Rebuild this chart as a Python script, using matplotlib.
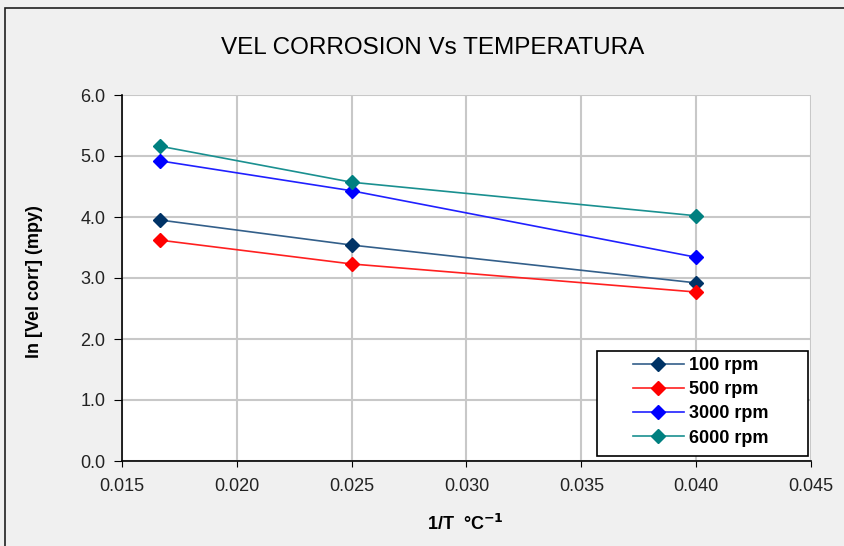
import matplotlib
matplotlib.use("Agg")
import matplotlib.pyplot as plt
from matplotlib.patches import Rectangle

plt.rcParams['font.family'] = ['Liberation Sans', 'DejaVu Sans']

inv_t = [1 / 60, 0.025, 0.040]
rpm_100 = [3.95, 3.54, 2.92]
rpm_500 = [3.62, 3.23, 2.77]
rpm_3000 = [4.92, 4.43, 3.34]
rpm_6000 = [5.16, 4.57, 4.02]

labels = ['100 rpm', '500 rpm', '3000 rpm', '6000 rpm']
series = [rpm_100, rpm_500, rpm_3000, rpm_6000]
line_colors = ['#335f8a', '#ff2020', '#2020ff', '#1a9090']
marker_colors = ['#003366', '#ff0000', '#0000ff', '#008080']

W, H = 845, 546
fig = plt.figure(figsize=(W / 100, H / 100), dpi=100)
fig.patch.set_facecolor('#f0f0f0')
# outer chart border
fig.patches.append(Rectangle((5 / W, -0.01), 1.0, (H - 8) / H + 0.01,
                             transform=fig.transFigure, fill=False,
                             edgecolor='#202020', lw=1.2))

ax = fig.add_axes([122 / W, 85 / H, 689 / W, 366 / H])
ax.set_facecolor('white')

for ys, lab, lc, mc in zip(series, labels, line_colors, marker_colors):
    ax.plot(inv_t, ys, color=lc, lw=1.2, marker='D', markersize=7,
            markerfacecolor=mc, markeredgecolor=mc, label=lab)

ax.set_xlim(0.015, 0.045)
ax.set_ylim(0, 6)
ax.set_xticks([0.015, 0.020, 0.025, 0.030, 0.035, 0.040, 0.045])
ax.set_xticklabels(['0.015', '0.020', '0.025', '0.030', '0.035', '0.040', '0.045'])
ax.set_yticks([0, 1, 2, 3, 4, 5, 6])
ax.set_yticklabels(['0.0', '1.0', '2.0', '3.0', '4.0', '5.0', '6.0'])
ax.grid(True, color='#c8c8c8', lw=1.5)
ax.set_axisbelow(True)
for s in ['top', 'right']:
    ax.spines[s].set_visible(False)
ax.spines['left'].set_linewidth(1.2)
ax.spines['bottom'].set_linewidth(1.2)
ax.tick_params(axis='both', labelsize=13, direction='out', color='black',
               labelcolor='#222222')
ax.tick_params(axis='y', length=6, pad=6)
ax.tick_params(axis='x', length=4, pad=8)

ax.set_xlabel('1/T  °C$^{\\mathbf{-1}}$', fontsize=13, fontweight='bold')
ax.xaxis.set_label_coords((465 - 122) / 689, -53 / 366)
ax.set_ylabel('ln [Vel corr] (mpy)', fontsize=13, fontweight='bold')
ax.yaxis.set_label_coords((43 - 122) / 689, 0.49)
fig.text(433 / W, 1 - 48 / H, 'VEL CORROSION Vs TEMPERATURA', ha='center',
         va='center', fontsize=17.5)

# legend box
ax.add_patch(Rectangle((597 / W, 1 - 456 / H), 211 / W, 105 / H,
                       transform=fig.transFigure, facecolor='white',
                       edgecolor='black', lw=1.2, zorder=4, clip_on=False))
leg = ax.legend(loc='upper left', bbox_to_anchor=(633 / W, 1 - 357 / H),
                bbox_transform=fig.transFigure, frameon=False,
                handlelength=2.8, handletextpad=0.3, borderpad=0,
                borderaxespad=0, labelspacing=0.4,
                prop={'weight': 'bold', 'size': 13})
leg.set_zorder(6)

fig.savefig('out.png', dpi=100, facecolor=fig.get_facecolor())
